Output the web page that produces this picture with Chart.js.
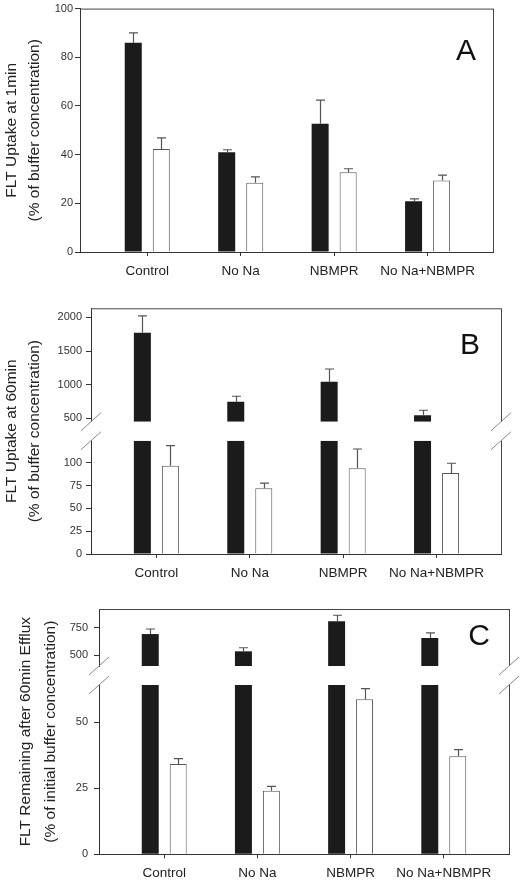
<!DOCTYPE html>
<html>
<head>
<meta charset="utf-8">
<script src="https://cdn.jsdelivr.net/npm/chart.js@4.4.0/dist/chart.umd.min.js"></script>
<style>
  body { margin: 0; background: #fff; width: 525px; height: 882px; overflow: hidden; position: relative; }
  canvas { position: absolute; left: 0; }
</style>
</head>
<body>
<canvas id="chartA" width="525" height="290" style="top:0"></canvas>
<canvas id="chartB" width="525" height="300" style="top:290px"></canvas>
<canvas id="chartC" width="525" height="292" style="top:590px"></canvas>
<script>
const categories = ['Control', 'No Na', 'NBMPR', 'No Na+NBMPR'];

// A: FLT uptake at 1 min
const uptake1Black = [86, 41, 52.7, 20.8];
const uptake1BlackErr = [4, 1, 9.7, 1];
const uptake1White = [42.3, 28.4, 32.8, 29.4];
const uptake1WhiteErr = [4.6, 2.5, 1.4, 2.2];
const uptake1Ticks = [0, 20, 40, 60, 80, 100];

// B: FLT uptake at 60 min (broken axis)
const uptake60Black = [1772, 748, 1045, 546];
const uptake60BlackErr = [250, 80, 188, 74];
const uptake60White = [96.7, 72, 93.9, 88.7];
const uptake60WhiteErr = [22, 5.5, 21, 10.6];
const uptake60LowTicks = [0, 25, 50, 75, 100];
const uptake60HighTicks = [500, 1000, 1500, 2000];

// C: FLT remaining after 60 min efflux (broken axis)
const effluxBlack = [692, 534, 809, 656];
const effluxBlackErr = [46, 33, 55, 46];
const effluxWhite = [34.1, 24.0, 58.6, 37.1];
const effluxWhiteErr = [2.1, 1.7, 4, 2.5];
const effluxLowTicks = [0, 25, 50];
const effluxHighTicks = [500, 750];

const FONT = "'Liberation Sans', Arial, sans-serif";
const AXIS_COLOR = '#333';

const blackStyle = { backgroundColor: '#1b1b1b', borderWidth: 0 };
const whiteStyle = { backgroundColor: '#fff', borderColor: '#555', borderWidth: 1 };

// draws the one-sided error bars on top of the bars
const errorBarPlugin = {
  id: 'errorBars',
  afterDatasetsDraw(chart) {
    const ctx = chart.ctx;
    ctx.save();
    ctx.strokeStyle = '#555';
    ctx.lineWidth = 1.2;
    chart.data.datasets.forEach((ds, di) => {
      if (!ds.errs) return;
      const meta = chart.getDatasetMeta(di);
      const scale = chart.scales[ds.yAxisID];
      meta.data.forEach((bar, i) => {
        const y0 = scale.getPixelForValue(ds.vals[i]);
        const y1 = scale.getPixelForValue(ds.vals[i] + ds.errs[i]);
        const x = Math.round(bar.x) + 0.5;
        ctx.beginPath();
        ctx.moveTo(x, y0);
        ctx.lineTo(x, y1);
        ctx.moveTo(x - 4.5, y1);
        ctx.lineTo(x + 4.5, y1);
        ctx.stroke();
      });
    });
    ctx.restore();
  }
};

// top/right frame, axis break marks and the panel letter
const framePlugin = {
  id: 'frame',
  afterDraw(chart, args, opts) {
    const { ctx, chartArea: a, scales } = chart;
    ctx.save();
    ctx.strokeStyle = '#444';
    ctx.lineWidth = 1;
    ctx.beginPath();
    ctx.moveTo(a.left, a.top + 0.5);
    ctx.lineTo(a.right, a.top + 0.5);
    const rx = Math.round(a.right) + 0.5;
    if (scales.yHigh) {
      const yb = scales.yHigh.bottom, yt = scales.y.top;
      ctx.moveTo(rx, a.top);
      ctx.lineTo(rx, yb);
      ctx.moveTo(rx, yt);
      ctx.lineTo(rx, a.bottom);
      ctx.stroke();
      ctx.strokeStyle = '#888';
      ctx.beginPath();
      [a.left, a.right].forEach(x => {
        [yb, yt].forEach(y => {
          ctx.moveTo(x - 10, y + 9);
          ctx.lineTo(x + 10, y - 9);
        });
      });
      ctx.stroke();
    } else {
      ctx.moveTo(rx, a.top);
      ctx.lineTo(rx, a.bottom);
      ctx.stroke();
    }
    ctx.fillStyle = '#111';
    ctx.font = '30px ' + FONT;
    ctx.textAlign = 'center';
    ctx.textBaseline = 'middle';
    ctx.fillText(opts.letter, a.right - opts.dx, a.top + opts.dy);
    ctx.restore();
  }
};

function tickAxis(range, ticks, width, pad, extra) {
  return Object.assign({
    type: 'linear',
    position: 'left',
    min: range[0],
    max: range[1],
    stacked: false,
    afterBuildTicks: s => { s.ticks = ticks.map(v => ({ value: v })); },
    afterFit: s => { s.width = width; },
    ticks: {
      font: { family: FONT, size: 11 },
      color: AXIS_COLOR,
      padding: pad,
      callback: v => String(v)
    },
    grid: { drawOnChartArea: false, tickLength: 5, color: AXIS_COLOR },
    border: { color: AXIS_COLOR }
  }, extra || {});
}

function makePanel(id, p) {
  const canvas = document.getElementById(id);
  const H = canvas.height;
  const split = !!p.highRange;
  const datasets = [];
  if (split) {
    datasets.push(Object.assign({
      data: p.black.map((v, i) => ({ x: i, y: [p.highRange[0], v] })),
      yAxisID: 'yHigh', stack: 'k', vals: p.black, errs: p.blackErr
    }, blackStyle));
    datasets.push(Object.assign({
      data: p.black.map((v, i) => ({ x: i, y: [0, Math.min(v, p.lowRange[1])] })),
      yAxisID: 'y', stack: 'k'
    }, blackStyle));
  } else {
    datasets.push(Object.assign({
      data: p.black.map((v, i) => ({ x: i, y: v })),
      yAxisID: 'y', stack: 'k', vals: p.black, errs: p.blackErr
    }, blackStyle));
  }
  datasets.push(Object.assign({
    data: p.white.map((v, i) => ({ x: i, y: v })),
    yAxisID: 'y', stack: 'w', vals: p.white, errs: p.whiteErr
  }, whiteStyle));

  const tickW = p.left - p.titleW;
  const scales = {
    x: {
      type: 'linear',
      min: p.xRange[0],
      max: p.xRange[1],
      offset: false,
      afterBuildTicks: s => { s.ticks = categories.map((c, i) => ({ value: i })); },
      afterFit: s => { s.height = H - p.bottom; },
      ticks: {
        callback: v => categories[v],
        font: { family: FONT, size: 13.5 },
        color: '#222',
        padding: 7,
        autoSkip: false,
        maxRotation: 0
      },
      grid: { drawOnChartArea: false, tickLength: 4, color: AXIS_COLOR, offset: false },
      border: { color: AXIS_COLOR }
    },
    yt: {
      type: 'linear',
      position: 'left',
      weight: 10,
      afterFit: s => { s.width = p.titleW; },
      ticks: { display: false },
      grid: { display: false },
      border: { display: false },
      title: {
        display: true,
        text: p.title,
        color: '#222',
        font: { family: FONT, size: 15.5, lineHeight: p.titleLine + 'px' },
        padding: { top: p.titlePad, bottom: 0 }
      }
    }
  };
  if (split) {
    scales.yHigh = tickAxis(p.highRange, p.highTicks, tickW, p.tickPad,
      { stack: 's', stackWeight: p.heights[0], weight: 3 });
    scales.yGap = {
      type: 'linear', position: 'left', stack: 's', stackWeight: p.heights[1], weight: 2,
      afterFit: s => { s.width = tickW; },
      ticks: { display: false }, grid: { display: false }, border: { display: false }
    };
    scales.y = tickAxis(p.lowRange, p.lowTicks, tickW, p.tickPad,
      { stack: 's', stackWeight: p.heights[2], weight: 1 });
  } else {
    scales.y = tickAxis(p.lowRange, p.lowTicks, tickW, p.tickPad, { weight: 1 });
  }

  return new Chart(canvas, {
    type: 'bar',
    data: { datasets: datasets },
    options: {
      responsive: false,
      animation: false,
      devicePixelRatio: 1,
      categoryPercentage: 0.6,
      barPercentage: 0.607,
      layout: { padding: { top: p.top, right: 525 - p.right, left: 0, bottom: 0 } },
      plugins: {
        legend: { display: false },
        tooltip: { enabled: false },
        frame: p.frame
      },
      scales: scales
    },
    plugins: [errorBarPlugin, framePlugin]
  });
}

makePanel('chartA', {
  black: uptake1Black, blackErr: uptake1BlackErr,
  white: uptake1White, whiteErr: uptake1WhiteErr,
  lowRange: [0, 100], lowTicks: uptake1Ticks,
  xRange: [-0.72, 3.7],
  top: 7, bottom: 252, left: 80, right: 493,
  titleW: 45, titleLine: 23, titlePad: 0, tickPad: 2,
  title: ['FLT Uptake at 1min', '(% of buffer concentration)'],
  frame: { letter: 'A', dx: 27, dy: 43 }
});

makePanel('chartB', {
  black: uptake60Black, blackErr: uptake60BlackErr,
  white: uptake60White, whiteErr: uptake60WhiteErr,
  lowRange: [0, 124], lowTicks: uptake60LowTicks,
  highRange: [450, 2135], highTicks: uptake60HighTicks,
  heights: [113.4, 19, 113.3],
  xRange: [-0.7, 3.69],
  top: 18.3, bottom: 264, left: 91, right: 501,
  titleW: 50, titleLine: 23, titlePad: 0.5, tickPad: 4,
  title: ['FLT Uptake at 60min', '(% of buffer concentration)'],
  frame: { letter: 'B', dx: 31, dy: 37 }
});

makePanel('chartC', {
  black: effluxBlack, blackErr: effluxBlackErr,
  white: effluxWhite, whiteErr: effluxWhiteErr,
  lowRange: [0, 64], lowTicks: effluxLowTicks,
  highRange: [400, 921], highTicks: effluxHighTicks,
  heights: [57, 19, 169.3],
  xRange: [-0.7, 3.7],
  top: 19, bottom: 264.3, left: 99, right: 509,
  titleW: 62, titleLine: 25, titlePad: 13.5, tickPad: 6,
  title: ['FLT Remaining after 60min Efflux', '(% of initial buffer concentration)'],
  frame: { letter: 'C', dx: 30, dy: 28 }
});
</script>
</body>
</html>
